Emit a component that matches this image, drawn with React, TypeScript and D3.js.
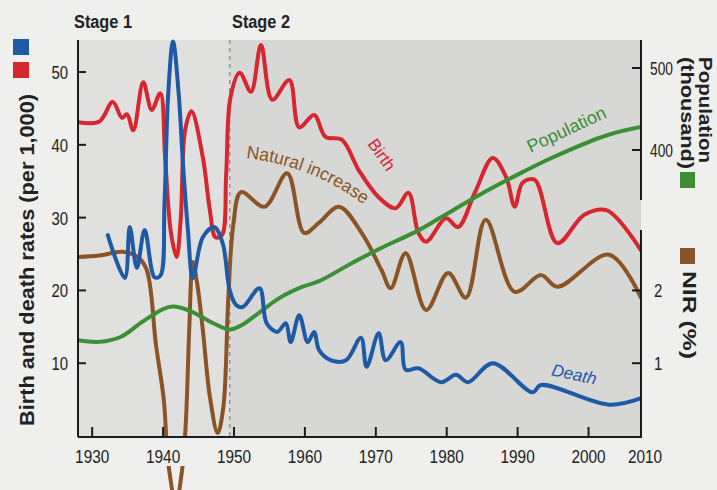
import React from 'react';
import * as d3 from 'd3';

type Pt = [number, number];

// Birth rate (per 1,000)
const birth: Pt[] = [
  [1928, 43.1], [1931, 43.2], [1932.9, 45.9], [1934.2, 43.7], [1934.9, 44.2], [1935.8, 42.0],
  [1937.2, 48.6], [1938.4, 44.8], [1939.6, 47.1], [1940.3, 38], [1941.1, 28], [1941.9, 24.6],
  [1942.5, 30], [1943.1, 42], [1944.0, 44.6], [1945.6, 38.3], [1946.6, 31], [1947.4, 27.3],
  [1948.3, 27.6], [1948.9, 36], [1949.5, 46.5], [1950.8, 49.9], [1952.4, 47.3], [1953.8, 53.7],
  [1955.4, 46.2], [1957.8, 48.9], [1959.2, 42.4], [1961.3, 44.1], [1962.9, 41.1], [1965.2, 40.7],
  [1967.6, 36.5], [1970.4, 32.8], [1972.8, 31.3], [1974.6, 33.4], [1976, 27.9], [1977.1, 26.7],
  [1979.9, 29.9], [1981.6, 28.7], [1984, 33.5], [1986.5, 38.2], [1988.4, 35.5], [1989.6, 31.5],
  [1990.7, 34.8], [1992.4, 35.2], [1995.6, 26.5], [1999.4, 30.4], [2002.6, 31], [2007.4, 25.5],
];

// Death rate (per 1,000)
const death: Pt[] = [
  [1932.2, 27.6], [1934.6, 21.7], [1935.3, 28.7], [1936.3, 23.1], [1937.4, 28.3], [1938.8, 21.8],
  [1939.6, 22.0], [1940.2, 32], [1940.7, 46.6], [1941.4, 54.2], [1942.2, 47], [1942.8, 37.5],
  [1943.5, 28.3], [1944.2, 21.7], [1945.6, 27.3], [1947.2, 28.7], [1948.4, 26.5], [1949.4, 20],
  [1950.3, 18], [1951.2, 17.7], [1953.6, 20.3], [1954.6, 15.5], [1956.1, 14.3], [1957.3, 15.5],
  [1958, 12.9], [1959.2, 16.6], [1960.4, 12.9], [1961.3, 14.3], [1962, 11.8], [1963.7, 10.4],
  [1965.8, 10.4], [1967.9, 13.5], [1968.7, 9.5], [1970.4, 14.1], [1971.4, 10.4], [1973.5, 12.9],
  [1974.2, 9.1], [1976, 9.3], [1979.2, 7.4], [1981.3, 8.4], [1983, 7.4], [1986.5, 10],
  [1992.1, 6.0], [1993.3, 7], [2002.9, 4.3], [2007.4, 5.2],
];

// Natural increase rate (%)
const nir: Pt[] = [
  [1928, 2.46], [1931, 2.48], [1934.3, 2.53], [1936.5, 2.45], [1937.7, 2.28], [1939, 1.25],
  [1940.1, 0.5], [1940.5, -0.1], [1940.9, -0.5], [1941.8, -0.93], [1942.7, -0.45], [1943.1, 0],
  [1943.35, 0.5], [1943.7, 1.5], [1944.2, 2.39], [1944.8, 2.1], [1945.6, 1.46], [1946.6, 0.54],
  [1947.7, 0.04], [1948.5, 0.4], [1949.2, 1.9], [1949.9, 2.9], [1951, 3.35], [1954.3, 3.15],
  [1957.5, 3.61], [1959.9, 2.79], [1962, 2.93], [1964.8, 3.15], [1968, 2.79], [1970.8, 2.28],
  [1972.1, 2.03], [1974.2, 2.51], [1977.1, 1.73], [1980.2, 2.24], [1982.7, 1.9], [1985.5, 2.97],
  [1989.6, 1.98], [1993.3, 2.21], [1995.6, 2.05], [2002.9, 2.49], [2007.4, 1.9],
];

// Population (thousand)
const population: Pt[] = [
  [1928, 168], [1931, 166], [1934, 172], [1937, 190], [1940, 206], [1941.4, 209], [1944, 203],
  [1947, 189], [1949.4, 181], [1951, 186], [1953.6, 202], [1956.5, 220], [1959.6, 233],
  [1962, 240], [1966.6, 262], [1970.4, 279], [1976, 302], [1979, 317], [1985.4, 349],
  [1990, 370], [1994.7, 390], [2002.6, 418], [2007.4, 428],
];

const yearTicks = [1930, 1940, 1950, 1960, 1970, 1980, 1990, 2000, 2010];
const rateTicks = [10, 20, 30, 40, 50];
const popTicks = [400, 500];
const nirTicks = [1, 2];
const X_DOMAIN: [number, number] = [1928, 2007.4];
const STAGE2_START = 1949.4;

const C = {
  birth: '#d8262f',
  death: '#1f5aa6',
  nir: '#8a5526',
  pop: '#3b8f34',
  axis: '#1b1b1b',
  text: '#222222',
};

const FONT = "'Liberation Sans Narrow', 'Arial Narrow', 'Liberation Sans', Arial, sans-serif";
const DIGIT_W = 8.3;

export default function App() {
  const W = 717, H = 490;
  const L = 78, R = 641, T = 40, B = 436;
  const x = d3.scaleLinear().domain(X_DOMAIN).range([L, R]);
  const yRate = d3.scaleLinear().domain([0, 54.4]).range([B, T]);
  const yNir = d3.scaleLinear().domain([0, 5.44]).range([B, T]);
  const yPop = d3.scaleLinear().domain([400, 500]).range([150, 68]);
  const curve = d3.curveCatmullRom.alpha(0.5);
  const lineRate = d3.line<Pt>().x(d => x(d[0])).y(d => yRate(d[1])).curve(curve);
  const lineNir = d3.line<Pt>().x(d => x(d[0])).y(d => yNir(d[1])).curve(curve);
  const linePop = d3.line<Pt>().x(d => x(d[0])).y(d => yPop(d[1])).curve(curve);
  const sw = 4;
  const xs = x(STAGE2_START);
  const tl = (v: number) => String(v).length * DIGIT_W;

  return (
    <svg width={W} height={H} style={{ position: 'absolute', left: 0, top: 0 }} fontFamily={FONT}>
      <defs>
        <clipPath id="plot"><rect x={L} y={T - 4} width={R - L} height={B - T + 4} /></clipPath>
        <clipPath id="below"><rect x={L} y={466} width={R - L} height={40} /></clipPath>
        <path id="niPath" d="M 246 158 Q 315 166 368 208" />
      </defs>
      <rect x={0} y={0} width={W} height={H} fill="#efefed" />
      <rect x={L} y={T} width={xs - L} height={B - T} fill="#e0e0df" />
      <rect x={xs} y={T} width={R - xs} height={B - T} fill="#d7d7d6" />
      <line x1={xs} x2={xs} y1={T} y2={B} stroke="#8a8a8a" strokeWidth={1.3} strokeDasharray="4,4" />

      <g clipPath="url(#plot)" fill="none" strokeWidth={sw} strokeLinejoin="round" strokeLinecap="round">
        <path d={lineNir(nir) || ''} stroke={C.nir} />
        <path d={lineRate(birth) || ''} stroke={C.birth} />
        <path d={linePop(population) || ''} stroke={C.pop} />
        <path d={lineRate(death) || ''} stroke={C.death} />
      </g>
      <g clipPath="url(#below)" fill="none" strokeWidth={sw}>
        <path d={lineNir(nir) || ''} stroke={C.nir} />
      </g>

      {/* axes */}
      <g stroke={C.axis} strokeWidth={2}>
        <line x1={L} x2={L} y1={T} y2={B + 1} />
        <line x1={L} x2={R} y1={B + 1} y2={B + 1} />
        <line x1={R} x2={R} y1={T} y2={200} />
        <line x1={R} x2={R} y1={230} y2={B + 2} />
        {rateTicks.map(t => <line key={'rt' + t} x1={L} x2={L + 8} y1={yRate(t)} y2={yRate(t)} />)}
        {yearTicks.filter(t => t < X_DOMAIN[1]).map(t => <line key={'xt' + t} x1={x(t)} x2={x(t)} y1={B} y2={B - 9} />)}
        {popTicks.map(t => <line key={'pt' + t} x1={R - 9} x2={R} y1={yPop(t)} y2={yPop(t)} />)}
        {nirTicks.map(t => <line key={'nt' + t} x1={R - 9} x2={R} y1={yNir(t)} y2={yNir(t)} />)}
      </g>

      <g fill={C.text} fontSize={18}>
        {rateTicks.map(t => (
          <text key={'rl' + t} x={68} y={yRate(t) + 7} textAnchor="end" textLength={tl(t)} lengthAdjust="spacingAndGlyphs">{t}</text>
        ))}
        {yearTicks.map(t => (
          <text key={'xl' + t} x={t > X_DOMAIN[1] ? x(X_DOMAIN[1]) + 4 : x(t)} y={463} textAnchor="middle"
            textLength={tl(t) + 1} lengthAdjust="spacingAndGlyphs">{t}</text>
        ))}
        {popTicks.map(t => (
          <text key={'pl' + t} x={650} y={yPop(t) + 7} textLength={tl(t) - 2} lengthAdjust="spacingAndGlyphs">{t}</text>
        ))}
        {nirTicks.map(t => (
          <text key={'nl' + t} x={654} y={yNir(t) + 7} textLength={tl(t)} lengthAdjust="spacingAndGlyphs">{t}</text>
        ))}
      </g>

      {/* stage labels */}
      <g fill={C.text} fontSize={18} fontWeight="bold">
        <text x={74} y={28} textLength={58} lengthAdjust="spacingAndGlyphs">Stage 1</text>
        <text x={232} y={28} textLength={58} lengthAdjust="spacingAndGlyphs">Stage 2</text>
      </g>

      {/* left title + legend squares */}
      <rect x={13} y={39} width={16} height={16} fill={C.death} />
      <rect x={13} y={62} width={16} height={16} fill={C.birth} />
      <text transform="translate(34,260) rotate(-90)" textAnchor="middle" fontSize={21} fontWeight="bold" fill={C.text}
        textLength={332} lengthAdjust="spacingAndGlyphs">
        Birth and death rates (per 1,000)
      </text>

      {/* right titles */}
      <g fill={C.text} fontSize={18} fontWeight="bold">
        <text transform="translate(699,57) rotate(90)" textLength={106} lengthAdjust="spacingAndGlyphs">Population</text>
        <text transform="translate(681,57) rotate(90)" textLength={112} lengthAdjust="spacingAndGlyphs">(thousand)</text>
        <text transform="translate(683,271) rotate(90)" textLength={88} lengthAdjust="spacingAndGlyphs">NIR (%)</text>
      </g>
      <rect x={680} y={172} width={15} height={16} fill={C.pop} />
      <rect x={680} y={248} width={15} height={16} fill={C.nir} />

      {/* curve labels */}
      <text fontSize={18} fill={C.nir}><textPath href="#niPath" textLength={128} lengthAdjust="spacingAndGlyphs">Natural increase</textPath></text>
      <text transform="translate(377,158) rotate(55)" textAnchor="middle" fontSize={17} fill={C.birth}>Birth</text>
      <text transform="translate(569,135) rotate(-25)" textAnchor="middle" fontSize={18} fill={C.pop}>Population</text>
      <text transform="translate(573,380) rotate(12)" textAnchor="middle" fontSize={17} fontStyle="italic" fill={C.death}>Death</text>
    </svg>
  );
}
